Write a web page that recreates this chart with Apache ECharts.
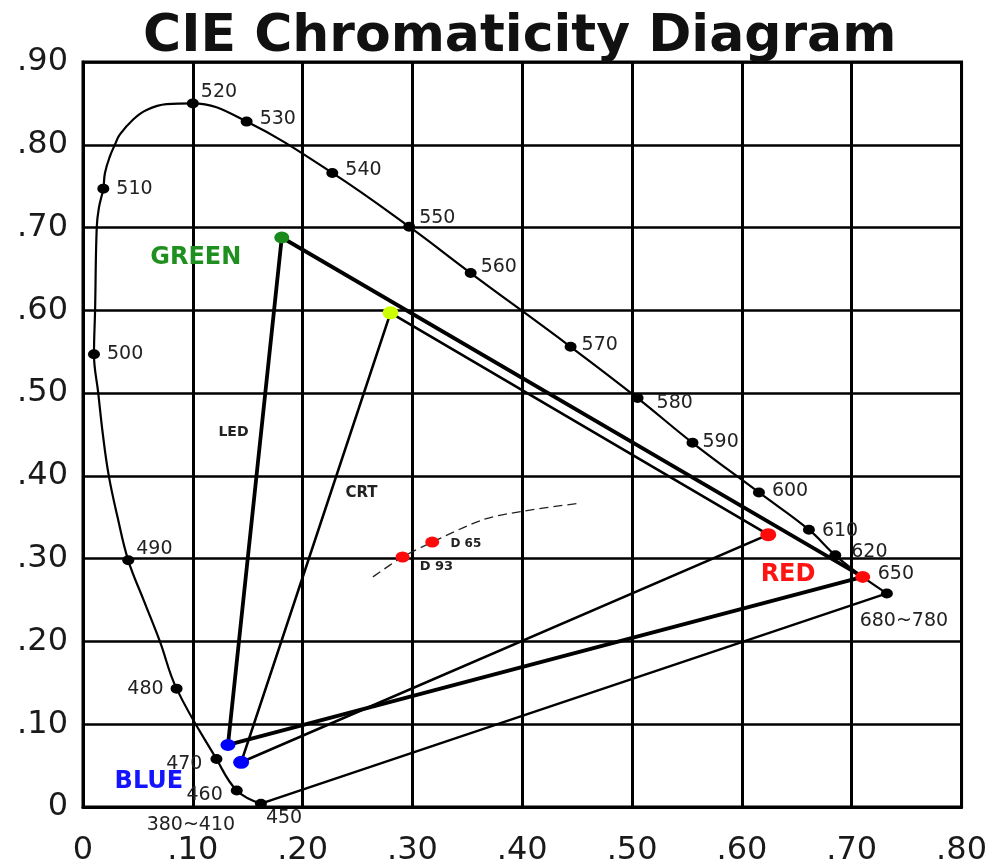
<!DOCTYPE html>
<html>
<head>
<meta charset="utf-8">
<script src="https://cdn.jsdelivr.net/npm/echarts@6/dist/echarts.min.js"></script>
<style>html,body{margin:0;padding:0;background:#fff}#c{width:990px;height:868px}</style>
</head>
<body>
<div id="c"></div>
<script>
// ---- data ----
const titleText = 'CIE Chromaticity Diagram';
const xTickLabels = ['0', '.10', '.20', '.30', '.40', '.50', '.60', '.70', '.80'];
const yTickLabels = ['0', '.10', '.20', '.30', '.40', '.50', '.60', '.70', '.80', '.90'];

// labelled points on the spectral locus (nm)
const wavelengths = ['450', '460', '470', '480', '490', '500', '510', '520', '530', '540', '550', '560', '570', '580', '590', '600', '610', '620', '650', '680~780'];
const locusX = [0.162, 0.140, 0.1215, 0.0852, 0.0412, 0.010, 0.0185, 0.100, 0.149, 0.227, 0.297, 0.353, 0.444, 0.505, 0.555, 0.6155, 0.661, 0.685, 0.710, 0.732];
const locusY = [0.004, 0.020, 0.058, 0.143, 0.298, 0.547, 0.747, 0.850, 0.828, 0.766, 0.701, 0.645, 0.556, 0.494, 0.440, 0.380, 0.335, 0.304, 0.278, 0.258];

// traced path of the spectral locus curve (includes unlabelled shape points)
const curveX = [0.162, 0.140, 0.1215, 0.0852, 0.070, 0.0555, 0.0412, 0.0315, 0.0235, 0.018, 0.0139, 0.010, 0.011, 0.0125, 0.0145, 0.0185, 0.020, 0.0245, 0.029, 0.0336, 0.0457, 0.0579, 0.0761, 0.100, 0.149, 0.227, 0.297, 0.353, 0.444, 0.505, 0.555, 0.6155, 0.661, 0.685, 0.710, 0.732];
const curveY = [0.004, 0.020, 0.058, 0.143, 0.200, 0.249, 0.298, 0.350, 0.400, 0.451, 0.500, 0.547, 0.600, 0.700, 0.724, 0.747, 0.766, 0.786, 0.800, 0.8125, 0.8306, 0.842, 0.849, 0.850, 0.828, 0.766, 0.701, 0.645, 0.556, 0.494, 0.440, 0.380, 0.335, 0.304, 0.278, 0.258];

// purple line: 680~780 back to 450
const purpleX = [0.732, 0.162];
const purpleY = [0.258, 0.004];

// LED gamut (green, red, blue)
const ledNames = ['GREEN', 'RED', 'BLUE'];
const ledX = [0.181, 0.710, 0.132];
const ledY = [0.688, 0.278, 0.075];

// CRT gamut (green, red, blue)
const crtX = [0.280, 0.624, 0.144];
const crtY = [0.597, 0.329, 0.054];

// white points
const whiteNames = ['D 65', 'D 93'];
const whiteX = [0.318, 0.291];
const whiteY = [0.320, 0.302];

// black-body (dashed) curve
const bbX = [0.264, 0.291, 0.318, 0.364, 0.399, 0.452];
const bbY = [0.278, 0.302, 0.320, 0.347, 0.357, 0.367];

// text annotations
const noteText = ['GREEN', 'RED', 'BLUE', 'LED', 'CRT', 'D 65', 'D 93'];
const noteX = [0.1027, 0.642, 0.060, 0.137, 0.2536, 0.3486, 0.3218];
const noteY = [0.663, 0.281, 0.031, 0.452, 0.379, 0.3176, 0.290];

// ---- styling ----
const FONT = 'DejaVu Sans';
const pairs = (xs, ys) => xs.map((x, i) => [x, ys[i]]);
const closed = (xs, ys) => { const p = pairs(xs, ys); p.push(p[0]); return p; };

const wlLabel = {
  '450': { position: 'right', offset: [-5, 14] },
  '460': { position: 'left', offset: [-4, 5] },
  '470': { position: 'left', offset: [-4, 5] },
  '480': { position: 'left', offset: [-3, 0] },
  '490': { position: 'right', offset: [-2, -11] },
  '500': { position: 'right', offset: [3, 0] },
  '510': { position: 'right', offset: [3, 0] },
  '520': { position: 'right', offset: [-2, -11] },
  '530': { position: 'right', offset: [3, -3] },
  '540': { position: 'right', offset: [3, -3] },
  '550': { position: 'right', offset: [0, -9] },
  '560': { position: 'right', offset: [0, -6] },
  '570': { position: 'right', offset: [1, -2] },
  '580': { position: 'right', offset: [9, 5] },
  '590': { position: 'right', offset: [0, -1] },
  '600': { position: 'right', offset: [3, -1] },
  '610': { position: 'right', offset: [3, 1] },
  '620': { position: 'right', offset: [6, -3] },
  '650': { position: 'right', offset: [5, -3] },
  '680~780': { position: 'bottom', offset: [17, 9] }
};
const noteStyle = {
  'GREEN': { color: '#1f8f1f', fontSize: 24, fontWeight: 'bold' },
  'RED': { color: '#ff1414', fontSize: 24, fontWeight: 'bold' },
  'BLUE': { color: '#1414ff', fontSize: 24, fontWeight: 'bold' },
  'LED': { color: '#222', fontSize: 14, fontWeight: 'bold' },
  'CRT': { color: '#222', fontSize: 15, fontWeight: 'bold' },
  'D 65': { color: '#222', fontSize: 12, fontWeight: 'bold' },
  'D 93': { color: '#222', fontSize: 13, fontWeight: 'bold' }
};
const primaryColors = ['#1a8a1a', '#ff0a0a', '#0000ff'];
const crtColors = ['#ccff00', '#ff0a0a', '#0000ff'];

const wlData = wavelengths.map((w, i) => ({
  name: w,
  value: [locusX[i], locusY[i]],
  label: Object.assign({ show: true, formatter: w }, wlLabel[w])
}));
// extra label for 380~410 at the 450 end of the locus
wlData.push({
  name: '380~410',
  value: [locusX[0], locusY[0]],
  symbolSize: 0,
  label: { show: true, formatter: '380~410', position: 'bottom', offset: [-70, 8] }
});

const option = {
  animation: false,
  backgroundColor: '#fff',
  title: {
    text: titleText,
    left: 138, top: 6,
    textStyle: { fontFamily: FONT, fontSize: 52, fontWeight: 'bold', color: '#111' }
  },
  grid: { left: 83, right: 27, top: 62, bottom: 61, show: true, borderColor: '#000', borderWidth: 3, containLabel: false },
  xAxis: {
    type: 'value', min: 0, max: 0.8, interval: 0.1,
    axisLine: { show: true, lineStyle: { color: '#000', width: 3 } },
    axisTick: { show: false },
    splitLine: { show: true, lineStyle: { color: '#000', width: 3 } },
    axisLabel: { fontFamily: FONT, fontSize: 32, color: '#1a1a1a', margin: 28, formatter: v => xTickLabels[Math.round(v * 10)] }
  },
  yAxis: {
    type: 'value', min: 0, max: 0.9, interval: 0.1,
    axisLine: { show: true, lineStyle: { color: '#000', width: 3 } },
    axisTick: { show: false },
    splitLine: { show: true, lineStyle: { color: '#000', width: 2.5 } },
    axisLabel: { fontFamily: FONT, fontSize: 32, color: '#1a1a1a', margin: 15, formatter: v => yTickLabels[Math.round(v * 10)] }
  },
  series: [
    { name: 'locus', type: 'line', smooth: 0.4, showSymbol: false, symbol: 'none', data: pairs(curveX, curveY), lineStyle: { color: '#000', width: 2.2 }, z: 3 },
    { name: 'purple', type: 'line', showSymbol: false, symbol: 'none', data: pairs(purpleX, purpleY), lineStyle: { color: '#000', width: 2.4 }, z: 3 },
    { name: 'LED', type: 'line', showSymbol: false, symbol: 'none', data: closed(ledX, ledY), lineStyle: { color: '#000', width: 3.8 }, z: 4 },
    { name: 'CRT', type: 'line', showSymbol: false, symbol: 'none', data: closed(crtX, crtY), lineStyle: { color: '#000', width: 2.6 }, z: 4 },
    { name: 'blackbody', type: 'line', smooth: 0.3, showSymbol: false, symbol: 'none', data: pairs(bbX, bbY), lineStyle: { color: '#222', width: 1.3, type: [9, 5] }, z: 3 },
    {
      name: 'wavelengths', type: 'scatter', symbol: 'circle', symbolSize: [12, 10],
      itemStyle: { color: '#000', opacity: 1 }, z: 5,
      label: { fontFamily: FONT, fontSize: 19, color: '#222', distance: 4 },
      data: wlData
    },
    {
      name: 'LED primaries', type: 'scatter', symbolSize: [15, 12], z: 6,
      itemStyle: { opacity: 1 },
      data: ledNames.map((n, i) => ({ name: n, value: [ledX[i], ledY[i]], itemStyle: { color: primaryColors[i], opacity: 1 } }))
    },
    {
      name: 'CRT primaries', type: 'scatter', symbolSize: [16, 13], z: 6,
      itemStyle: { opacity: 1 },
      data: ledNames.map((n, i) => ({ name: n, value: [crtX[i], crtY[i]], itemStyle: { color: crtColors[i], opacity: 1 } }))
    },
    {
      name: 'white points', type: 'scatter', symbolSize: [14, 11], itemStyle: { color: '#ff0a0a', opacity: 1 }, z: 6,
      data: pairs(whiteX, whiteY).map((p, i) => ({ name: whiteNames[i], value: p }))
    },
    {
      name: 'notes', type: 'scatter', symbolSize: 0, z: 7,
      itemStyle: { opacity: 1 },
      data: noteText.map((t, i) => ({
        name: t, value: [noteX[i], noteY[i]],
        label: Object.assign({ show: true, position: 'inside', formatter: t, fontFamily: FONT }, noteStyle[t])
      }))
    }
  ]
};
const chart = echarts.init(document.getElementById('c'), null, { renderer: 'canvas' });
chart.setOption(option);
</script>
</body>
</html>
